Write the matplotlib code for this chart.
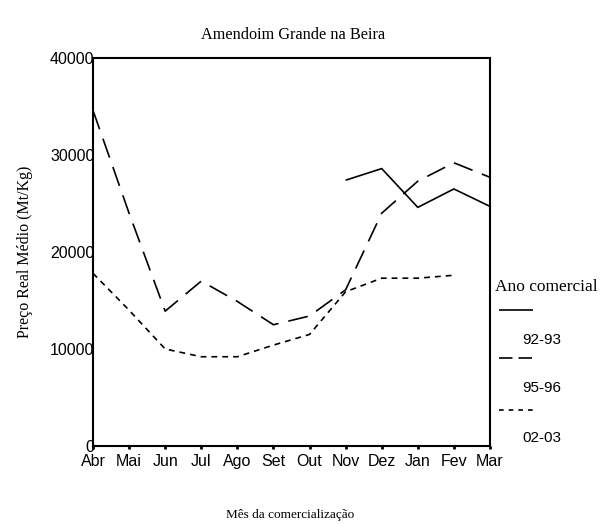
import matplotlib
matplotlib.use("Agg")
import matplotlib.pyplot as plt
from matplotlib.lines import Line2D

months = ["Abr", "Mai", "Jun", "Jul", "Ago", "Set", "Out", "Nov", "Dez", "Jan", "Fev", "Mar"]

# 92-93 only has data from Nov onward
s9293 = [None, None, None, None, None, None, None, 27400, 28600, 24600, 26500, 24700]
s9596 = [34600, 24000, 13900, 17000, 14900, 12500, 13400, 16100, 24000, 27300, 29200, 27700]
s0203 = [17800, 14000, 10000, 9200, 9200, 10400, 11500, 15900, 17300, 17300, 17600, None]

yticks = [0, 10000, 20000, 30000, 40000]

serif = "Liberation Serif"
sans = "Liberation Sans"

fig = plt.figure(figsize=(6.07, 5.24), dpi=100)
ax = fig.add_axes([0.1532, 0.1489, 0.6540, 0.7404])

x = list(range(len(months)))


def pts(vals):
    xs = [i for i, v in zip(x, vals) if v is not None]
    ys = [v for v in vals if v is not None]
    return xs, ys


lw = 1.2
styles = [(0, ()), (0, (12, 6)), (0, (3.5, 3))]
for vals, ls in zip([s9293, s9596, s0203], styles):
    xs, ys = pts(vals)
    ax.plot(xs, ys, color="black", lw=lw, linestyle=ls)

ax.set_xlim(0, len(months) - 1)
ax.set_ylim(0, 40000)
ax.set_xticks(x)
ax.set_xticklabels(months, fontfamily=sans, fontsize=11.5)
ax.set_yticks(yticks)
ax.set_yticklabels([str(v) for v in yticks], fontfamily=sans, fontsize=11.5)
ax.tick_params(axis="x", length=2.5, width=2, pad=3)
ax.tick_params(axis="y", length=0, pad=-1)
for sp in ax.spines.values():
    sp.set_linewidth(1.5)

fig.text(0.482, 0.933, "Amendoim Grande na Beira", ha="center", va="center",
         fontfamily=serif, fontsize=11.7)
fig.text(0.042, 0.52, "Preço Real Médio (Mt/Kg)", ha="center", va="center",
         rotation=90, fontfamily=serif, fontsize=11.5)
fig.text(0.478, 0.017, "Mês da comercialização", ha="center", va="center",
         fontfamily=serif, fontsize=9.5)

# legend drawn by hand: handle line above each label
labels = ["92-93", "95-96", "02-03"]
leg_styles = [(0, ()), (0, (8.1, 3.6)), (0, (2.8, 3))]
fig.text(0.816, 0.452, "Ano comercial", ha="left", va="center",
         fontfamily=serif, fontsize=12.5)
handle_y = [310, 358, 410]
label_y = [340, 388, 438]
for ls, lab, hy, ly in zip(leg_styles, labels, handle_y, label_y):
    fig.add_artist(Line2D([499 / 607, 533 / 607], [1 - hy / 524, 1 - hy / 524],
                          color="black", lw=lw, linestyle=ls))
    fig.text(522 / 607, 1 - ly / 524, lab, ha="left", va="center",
             fontfamily=sans, fontsize=11)

fig.savefig("out.png", dpi=100)
